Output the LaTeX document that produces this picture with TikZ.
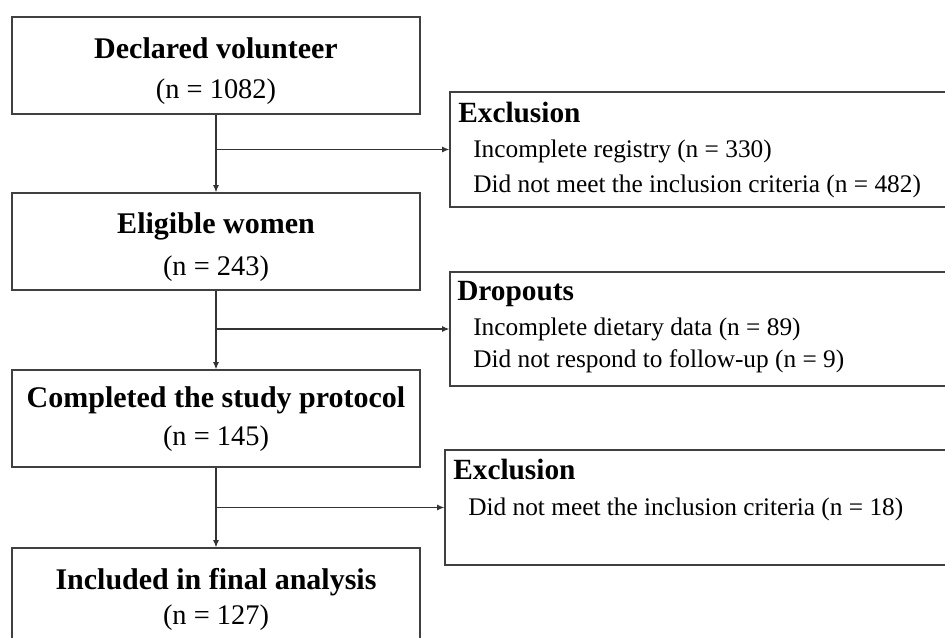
\documentclass[tikz,border=0pt]{standalone}
\usepackage{fontspec}
\setmainfont{Liberation Serif}
\usetikzlibrary{arrows.meta}
\begin{document}
\begin{tikzpicture}[x=0.75pt,y=-0.75pt,
  box/.style={draw=black!75,line width=0.9pt,rectangle,inner sep=0pt},
  lbox/.style={box,minimum width=306pt,minimum height=72.75pt},
  ttl/.style={font=\fontsize{22.5}{24}\selectfont\bfseries,inner sep=0pt,anchor=base},
  num/.style={font=\fontsize{21.3}{23}\selectfont,inner sep=0pt,anchor=base},
  rttl/.style={font=\fontsize{22}{24}\selectfont\bfseries,inner sep=0pt,anchor=base west},
  rtxt/.style={font=\fontsize{19}{21}\selectfont,inner sep=0pt,anchor=base west},
  conn/.style={draw=black!80,line width=0.9pt},
  arr/.style={conn,-{Latex[length=5.5pt,width=4.5pt]}}]
\useasboundingbox (0,0) rectangle (945,637);
\clip (0,0) rectangle (945,637);
% left boxes
\node[lbox] (b1) at (216,65.5) {};
\node[lbox] (b2) at (216,241.5) {};
\node[lbox] (b3) at (216,418.5) {};
\node[lbox] (b4) at (216,596.5) {};
\node[ttl] (t1a) at (216,58) {Declared volunteer};
\node[num] (t1b) at (216,98) {(n = 1082)};
\node[ttl] (t2a) at (216,233) {Eligible women};
\node[num] (t2b) at (216,275) {(n = 243)};
\node[ttl] (t3a) at (216,407) {Completed the study protocol};
\node[num] (t3b) at (216,445) {(n = 145)};
\node[ttl] (t4a) at (216,589) {Included in final analysis};
\node[num] (t4b) at (216,624) {(n = 127)};
% right boxes
\node[box,minimum width=386.25pt,minimum height=86.25pt] (r1) at (707.5,149.5) {};
\node[box,minimum width=386.25pt,minimum height=85.5pt] (r2) at (707.5,329) {};
\node[box,minimum width=390pt,minimum height=86.25pt] (r3) at (705,507.5) {};
\node[rttl] (r1a) at (458,122) {Exclusion};
\node[rtxt] (r1b) at (473,157) {Incomplete registry (n = 330)};
\node[rtxt] (r1c) at (473,192) {Did not meet the inclusion criteria (n = 482)};
\node[rttl] (r2a) at (457,300) {Dropouts};
\node[rtxt] (r2b) at (473,335) {Incomplete dietary data (n = 89)};
\node[rtxt] (r2c) at (473,367) {Did not respond to follow-up (n = 9)};
\node[rttl] (r3a) at (453,479) {Exclusion};
\node[rtxt] (r3b) at (468,515) {Did not meet the inclusion criteria (n = 18)};
% connectors
\draw[arr] (b1.south) -- (b2.north);
\draw[arr] (b2.south) -- (b3.north);
\draw[arr] (b3.south) -- (b4.north);
\coordinate (j1) at (b1.south |- r1.west);
\coordinate (j2) at (b2.south |- r2.west);
\coordinate (j3) at (b3.south |- r3.west);
\draw[arr] (j1) -- (r1.west);
\draw[arr] (j2) -- (r2.west);
\draw[arr] (j3) -- (r3.west);
\end{tikzpicture}
\end{document}
